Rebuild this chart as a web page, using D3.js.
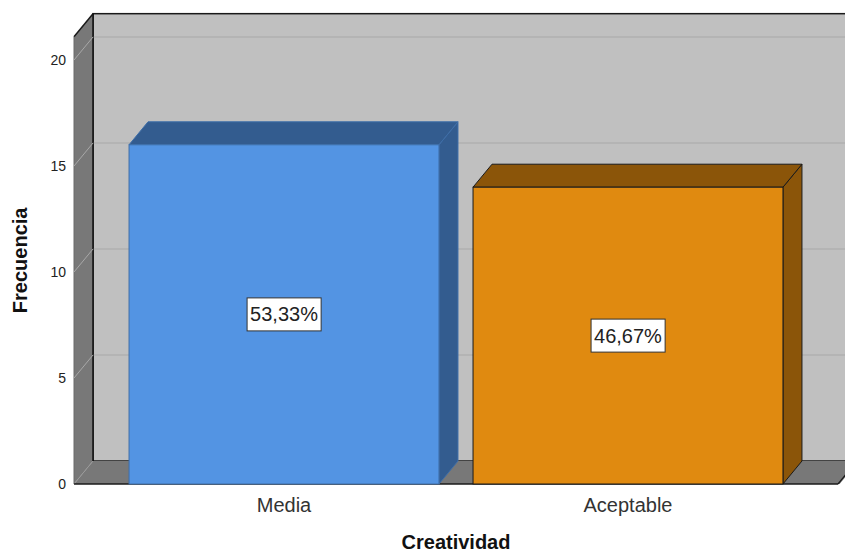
<!DOCTYPE html>
<html>
<head>
<meta charset="utf-8">
<script src="https://cdn.jsdelivr.net/npm/d3@7"></script>
<style>
  html, body { margin: 0; padding: 0; background: #fff; }
  svg { display: block; font-family: "Liberation Sans", Arial, sans-serif; }
</style>
</head>
<body>
<svg id="chart" width="845" height="555"></svg>
<script>
const categories = ["Media", "Aceptable"];
const frequencies = [16, 14];
const percentLabels = ["53,33%", "46,67%"];
const yTicks = [0, 5, 10, 15, 20];
const frontColors = ["#5394E3", "#E08A10"];
const sideColors = ["#335C8F", "#8B5509"];
const strokeColors = ["#3E6EA8", "#1a1a1a"];
const xTitle = "Creatividad";
const yTitle = "Frecuencia";

const W = 845, H = 555;
const svg = d3.select("#chart");

const x0 = 74, x1 = 838, yBottom = 484, yTopVal = 20, yTopPx = 60;
const dx = 19, dy = 23;
const wallMax = 21.1;

const y = d3.scaleLinear().domain([0, yTopVal]).range([yBottom, yTopPx]);
const x = d3.scaleBand().domain(categories).range([x0, x1]).paddingInner(0.099).paddingOuter(0.16);

const line = d3.line();

// back wall
const wallTop = y(wallMax) - dy;
svg.append("rect")
  .attr("x", x0 + dx).attr("y", wallTop)
  .attr("width", W + 20 - (x0 + dx)).attr("height", yBottom - dy - wallTop)
  .attr("fill", "#C0C0C0").attr("stroke", "#1a1a1a").attr("stroke-width", 1.5);

// gridlines on back wall
svg.selectAll("line.grid").data(yTicks.filter(d => d > 0)).join("line")
  .attr("class", "grid")
  .attr("x1", x0 + dx).attr("x2", W + 20)
  .attr("y1", d => y(d) - dy).attr("y2", d => y(d) - dy)
  .attr("stroke", "#B0B0B0").attr("stroke-width", 1.5);

// left wall
svg.append("path")
  .attr("d", line([[x0, y(wallMax)], [x0 + dx, y(wallMax) - dy], [x0 + dx, yBottom - dy], [x0, yBottom]]) + "Z")
  .attr("fill", "#787878").attr("stroke", "none");
svg.append("path")
  .attr("d", line([[x0, y(wallMax)], [x0 + dx, y(wallMax) - dy]]))
  .attr("stroke", "#1a1a1a").attr("stroke-width", 1.5);
svg.append("line")
  .attr("x1", x0 + dx).attr("x2", x0 + dx)
  .attr("y1", y(wallMax) - dy).attr("y2", yBottom - dy)
  .attr("stroke", "#111").attr("stroke-width", 1.5);
svg.append("line")
  .attr("x1", x0).attr("x2", x0)
  .attr("y1", y(wallMax)).attr("y2", yBottom)
  .attr("stroke", "#6a6a6a").attr("stroke-width", 1);

// diagonal tick lines on the left wall
svg.selectAll("line.diag").data(yTicks.filter(d => d > 0)).join("line")
  .attr("class", "diag")
  .attr("x1", x0).attr("y1", d => y(d))
  .attr("x2", x0 + dx).attr("y2", d => y(d) - dy)
  .attr("stroke", "#A8A8A8").attr("stroke-width", 1);

// floor
svg.append("path")
  .attr("d", line([[x0, yBottom], [x0 + dx, yBottom - dy], [W + 30, yBottom - dy], [x1 + 30 - dx, yBottom]]) + "Z")
  .attr("fill", "#787878");
svg.append("line")
  .attr("x1", x0).attr("y1", yBottom).attr("x2", x0 + dx).attr("y2", yBottom - dy)
  .attr("stroke", "#9a9a9a").attr("stroke-width", 1);
svg.append("path")
  .attr("d", line([[x0, yBottom], [x1, yBottom]]))
  .attr("fill", "none").attr("stroke", "#1a1a1a").attr("stroke-width", 1.5);
svg.append("path")
  .attr("d", line([[x1 + 0.8, yBottom + 1], [x1 + dx + 0.8, yBottom - dy + 1], [W + 40, yBottom - dy + 1], [W + 40, yBottom + 2]]) + "Z")
  .attr("fill", "#fff");
svg.append("path")
  .attr("d", line([[x1, yBottom], [x1 + dx, yBottom - dy]]))
  .attr("stroke", "#1a1a1a").attr("stroke-width", 1.2);

// bars
const bars = svg.selectAll("g.bar").data(categories).join("g").attr("class", "bar");
bars.each(function(c, i) {
  const g = d3.select(this);
  const bx = x(c), bw = x.bandwidth();
  const top = y(frequencies[i]);
  g.append("path")
    .attr("d", line([[bx + bw, top], [bx + bw + dx, top - dy], [bx + bw + dx, yBottom - dy], [bx + bw, yBottom]]) + "Z")
    .attr("fill", sideColors[i]).attr("stroke", strokeColors[i]).attr("stroke-width", 1).attr("stroke-linejoin", "round");
  g.append("path")
    .attr("d", line([[bx, top], [bx + dx, top - dy], [bx + bw + dx, top - dy], [bx + bw, top]]) + "Z")
    .attr("fill", sideColors[i]).attr("stroke", strokeColors[i]).attr("stroke-width", 1).attr("stroke-linejoin", "round");
  g.append("rect")
    .attr("x", bx).attr("y", top).attr("width", bw).attr("height", yBottom - top)
    .attr("fill", frontColors[i]).attr("stroke", strokeColors[i]).attr("stroke-width", 1);

  const cx = bx + bw / 2, cy = (top + yBottom) / 2;
  const t = g.append("text")
    .attr("x", cx).attr("y", cy + 7)
    .attr("text-anchor", "middle")
    .attr("font-size", 20).attr("fill", "#222")
    .text(percentLabels[i]);
  const bb = t.node().getBBox();
  g.insert("rect", "text")
    .attr("x", bb.x - 3).attr("y", cy - 16.5)
    .attr("width", bb.width + 6).attr("height", 33)
    .attr("fill", "#fff").attr("stroke", "#333").attr("stroke-width", 1);
});

// y tick labels
svg.selectAll("text.ytick").data(yTicks).join("text")
  .attr("class", "ytick")
  .attr("x", x0 - 8).attr("y", d => y(d) + 5)
  .attr("text-anchor", "end").attr("font-size", 14).attr("fill", "#222")
  .text(d => d);

// category labels
svg.selectAll("text.xcat").data(categories).join("text")
  .attr("class", "xcat")
  .attr("x", d => x(d) + x.bandwidth() / 2).attr("y", 512)
  .attr("text-anchor", "middle").attr("font-size", 20).attr("fill", "#333")
  .text(d => d);

// axis titles
svg.append("text")
  .attr("x", (x0 + x1) / 2).attr("y", 549)
  .attr("text-anchor", "middle").attr("font-size", 20).attr("font-weight", "bold").attr("fill", "#111")
  .text(xTitle);
svg.append("text")
  .attr("transform", `translate(27, ${(y(wallMax) + yBottom) / 2}) rotate(-90)`)
  .attr("text-anchor", "middle").attr("font-size", 20).attr("font-weight", "bold").attr("fill", "#111")
  .text(yTitle);
</script>
</body>
</html>
